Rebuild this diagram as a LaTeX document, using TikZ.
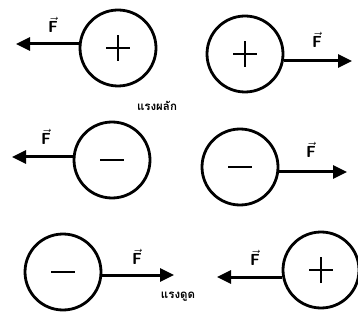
\documentclass[tikz,border=0pt]{standalone}
\usepackage{fontspec}
\newfontfamily\thaifont[Script=Thai]{Loma}
\usetikzlibrary{arrows.meta,calc}
\tikzset{
  charge/.style={circle,draw,line width=2.8pt,minimum size=76pt,inner sep=0pt},
  sign/.style={line width=2.3pt},
  force/.style={line width=3pt,-{Triangle[length=14pt,width=13pt]}},
  flabel/.style={font=\fontsize{16}{18}\selectfont,inner sep=0pt},
  thlabel/.style={font=\thaifont\bfseries\fontsize{11.5}{13}\selectfont,inner sep=0pt}
}
\newcommand{\plussign}[1]{\draw[sign] ($(#1)+(-12pt,0)$) -- ($(#1)+(12pt,0)$); \draw[sign] ($(#1)+(0,-13pt)$) -- ($(#1)+(0,13pt)$);}
\newcommand{\minussign}[1]{\draw[sign] ($(#1)+(-12pt,0)$) -- ($(#1)+(12pt,0)$);}
\newcommand{\fvec}{$\vec{\textsf{\textbf{F}}}$}
\begin{document}
\begin{tikzpicture}[x=1pt,y=-1pt]
\useasboundingbox (0,0) rectangle (358,320);
% row 1
\node[charge] (a1) at (118,48) {};
\node[charge] (b1) at (245,54) {};
\plussign{a1}
\plussign{b1}
\coordinate (ta1) at (16,44);
\coordinate (tb1) at (352,61);
\draw[force] (a1.west |- ta1) -- (ta1);
\draw[force] (b1.east |- tb1) -- (tb1);
\node[flabel] (fa1) at (53,25) {\fvec};
\node[flabel] (fb1) at (317,40) {\fvec};
\node[thlabel] (rep) at (157,106) {แรงผลัก};
% row 2
\node[charge] (a2) at (112,160) {};
\node[charge] (b2) at (240,167) {};
\minussign{a2}
\minussign{b2}
\coordinate (ta2) at (12,157);
\coordinate (tb2) at (347,172);
\draw[force] (a2.west |- ta2) -- (ta2);
\draw[force] (b2.east |- tb2) -- (tb2);
\node[flabel] (fa2) at (46,137) {\fvec};
\node[flabel] (fb2) at (311,150) {\fvec};
% row 3
\node[charge] (a3) at (63,272) {};
\node[charge] (b3) at (321,270) {};
\minussign{a3}
\plussign{b3}
\coordinate (ta3) at (174,275);
\coordinate (tb3) at (217,277);
\draw[force] (a3.east |- ta3) -- (ta3);
\draw[force] (b3.west |- tb3) -- (tb3);
\node[flabel] (fa3) at (137,257) {\fvec};
\node[flabel] (fb3) at (255,258) {\fvec};
\node[thlabel] (att) at (178,297) {แรงดูด};
\end{tikzpicture}
\end{document}
